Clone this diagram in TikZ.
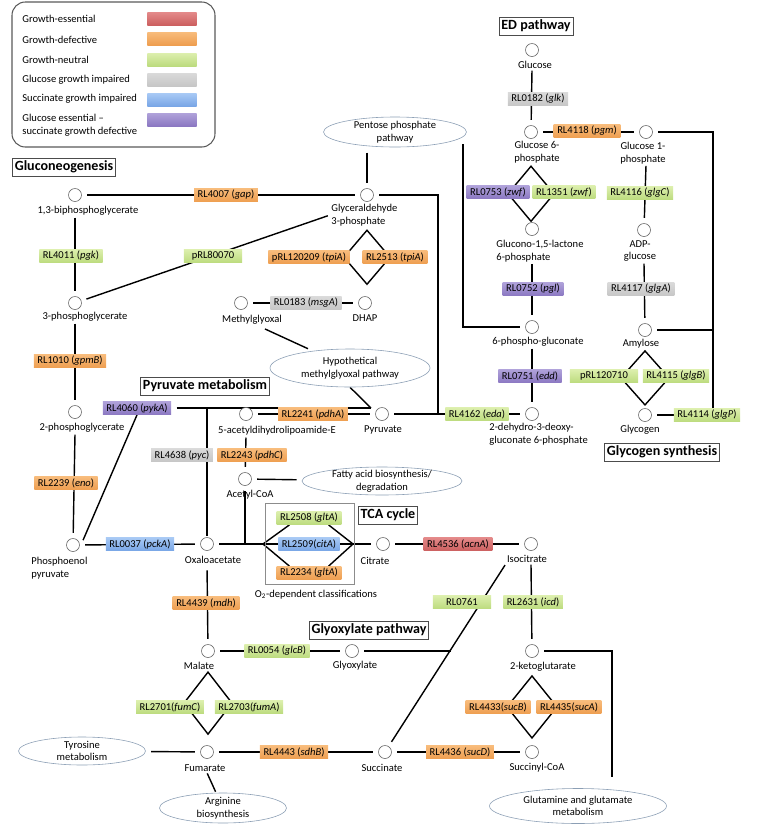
\documentclass[tikz,border=0pt]{standalone}
\usepackage{fontspec}
\setmainfont{Carlito}
\usetikzlibrary{shapes.geometric, positioning, calc, backgrounds}

\definecolor{essTop}{HTML}{E48A8A}
\definecolor{essBot}{HTML}{CC6060}
\definecolor{defTop}{HTML}{F8BC7C}
\definecolor{defBot}{HTML}{EE9E50}
\definecolor{neuTop}{HTML}{DDEFAE}
\definecolor{neuBot}{HTML}{BCDB7E}
\definecolor{glcTop}{HTML}{DADADA}
\definecolor{glcBot}{HTML}{C6C6C6}
\definecolor{sucTop}{HTML}{A9CAF5}
\definecolor{sucBot}{HTML}{79A6E6}
\definecolor{bothTop}{HTML}{B0A2DA}
\definecolor{bothBot}{HTML}{8B78C2}
\definecolor{extline}{HTML}{8C9FB5}

\tikzset{
  met/.style={circle, draw=black!60, line width=0.5pt, fill=white, minimum size=0.39cm, inner sep=0pt},
  lbl/.style={font=\fontsize{9}{10.8}\selectfont, align=center, inner sep=1pt},
  enz/.style={rectangle, font=\fontsize{9}{10.8}\selectfont, inner xsep=3pt, inner ysep=0pt, minimum height=0.4cm, minimum width=1.75cm},
  gess/.style={enz, top color=essTop, bottom color=essBot},
  gdef/.style={enz, top color=defTop, bottom color=defBot},
  gneu/.style={enz, top color=neuTop, bottom color=neuBot},
  gglc/.style={enz, top color=glcTop, bottom color=glcBot},
  gsuc/.style={enz, top color=sucTop, bottom color=sucBot},
  gboth/.style={enz, top color=bothTop, bottom color=bothBot},
  ttl/.style={draw=black!70, line width=0.5pt, font=\fontsize{12}{14}\selectfont\bfseries, inner xsep=2pt, inner ysep=2.5pt},
  ext/.style={ellipse, draw=extline, line width=0.5pt, fill=white, inner sep=0pt},
  wire/.style={line width=1.2pt},
  conn/.style={wire, shorten <=4.5pt, shorten >=4.5pt},
  lconn/.style={wire, shorten <=0.5pt, shorten >=4.5pt}
}

\begin{document}
\begin{tikzpicture}[x=0.03cm, y=-0.03cm]
	\useasboundingbox (0,0) rectangle (760,826);

	% Legend
	\draw [black!65, line width=0.9pt, rounded corners=0.4cm] (12,2) rectangle (215,147);
	\node [lbl, anchor=west, align=left] (lgess) at (21,19) {Growth-essential};
	\node [lbl, anchor=west, align=left] (lgdef) at (21,40) {Growth-defective};
	\node [lbl, anchor=west, align=left] (lgneu) at (21,60) {Growth-neutral};
	\node [lbl, anchor=west, align=left] (lgglc) at (21,80) {Glucose growth impaired};
	\node [lbl, anchor=west, align=left] (lgsuc) at (21,99) {Succinate growth impaired};
	\node [lbl, anchor=west, align=left] (lgboth) at (21,125) {Glucose essential –\\succinate growth defective};
	\node [gess, minimum width=1.47cm, minimum height=0.39cm] (kess) at (172,18.5) {};
	\node [gdef, minimum width=1.47cm, minimum height=0.39cm] (kdef) at (172,38.5) {};
	\node [gneu, minimum width=1.47cm, minimum height=0.39cm] (kneu) at (172,59.5) {};
	\node [gglc, minimum width=1.47cm, minimum height=0.39cm] (kglc) at (172,79.5) {};
	\node [gsuc, minimum width=1.47cm, minimum height=0.39cm] (ksuc) at (172,99.5) {};
	\node [gboth, minimum width=1.47cm, minimum height=0.39cm] (kboth) at (172,119.5) {};

	% Titles
	\node [ttl] (tgluc) at (64,167) {Gluconeogenesis};
	\node [ttl] (ted) at (536,26) {ED pathway};
	\node [ttl] (tpyr) at (205,386) {Pyruvate metabolism};
	\node [ttl] (ttca) at (388,515) {TCA cycle};
	\node [ttl] (tglx) at (369,630) {Glyoxylate pathway};
	\node [ttl] (tgly) at (662,452) {Glycogen synthesis};

	% Metabolites
	\node [met] (bpg) at (75,195) {};
	\node [met] (pga3) at (75,303) {};
	\node [met] (pga2) at (75,412) {};
	\node [met] (pep) at (73,545) {};
	\node [met] (gap3) at (367,195) {};
	\node [met] (dhap) at (365,303) {};
	\node [met] (mgo) at (241,303) {};
	\node [met] (acl) at (246,414) {};
	\node [met] (accoa) at (245,479) {};
	\node [met] (pyr) at (382,414) {};
	\node [met] (oaa) at (207,544) {};
	\node [met] (cit) at (383,544) {};
	\node [met] (icit) at (531,544) {};
	\node [met] (akg) at (532,651) {};
	\node [met] (succoa) at (532,752) {};
	\node [met] (succ) at (385,752) {};
	\node [met] (fum) at (207,752) {};
	\node [met] (mal) at (208,651) {};
	\node [met] (glx) at (352,651) {};
	\node [met] (glcs) at (532,50) {};
	\node [met] (g6p) at (531,132) {};
	\node [met] (g1p) at (646,132) {};
	\node [met] (gcl) at (532,229) {};
	\node [met] (adpg) at (644,230) {};
	\node [met] (pgn6) at (532,327) {};
	\node [met] (amy) at (645,330) {};
	\node [met] (kdpg) at (532,414) {};
	\node [met] (glyc) at (645,415) {};

	% Labels
	\node [lbl] (bpgl) at (88,211) {1,3-biphosphoglycerate};
	\node [lbl] (pga3l) at (85,317) {3-phosphoglycerate};
	\node [lbl] (pga2l) at (82,428) {2-phosphoglycerate};
	\node [lbl, anchor=west, align=left] (pepl) at (30,568) {Phosphoenol\\pyruvate};
	\node [lbl, anchor=west, align=left] (gap3l) at (330,215) {Glyceraldehyde\\3-phosphate};
	\node [lbl] (dhapl) at (365,318) {DHAP};
	\node [lbl] (mgol) at (252,320) {Methylglyoxal};
	\node [lbl] (acll) at (277,431) {5-acetyldihydrolipoamide-E};
	\node [lbl] (accoal) at (250,495) {Acetyl-CoA};
	\node [lbl] (pyrl) at (383,430) {Pyruvate};
	\node [lbl] (oaal) at (213,560) {Oxaloacetate};
	\node [lbl] (citl) at (375,561) {Citrate};
	\node [lbl] (icitl) at (527,559) {Isocitrate};
	\node [lbl] (akgl) at (543,667) {2-ketoglutarate};
	\node [lbl] (succoal) at (537,768) {Succinyl-CoA};
	\node [lbl] (succl) at (382,768) {Succinate};
	\node [lbl] (fuml) at (205,768) {Fumarate};
	\node [lbl] (mall) at (199,666) {Malate};
	\node [lbl] (glxl) at (355,666) {Glyoxylate};
	\node [lbl] (glcsl) at (535,65) {Glucose};
	\node [lbl] (g6pl) at (537,152) {Glucose 6-\\phosphate};
	\node [lbl] (g1pl) at (643,153) {Glucose 1-\\phosphate};
	\node [lbl, anchor=west, align=left] (gcll) at (495,251) {Glucono-1,5-lactone\\6-phosphate};
	\node [lbl] (adpgl) at (640,251) {ADP-\\glucose};
	\node [lbl] (pgn6l) at (538,342) {6-phospho-gluconate};
	\node [lbl] (amyl) at (641,344) {Amylose};
	\node [lbl, anchor=west, align=left] (kdpgl) at (488,434) {2-dehydro-3-deoxy-\\gluconate 6-phosphate};
	\node [lbl] (glycl) at (640,430) {Glycogen};
	\node [lbl] (o2l) at (316,595) {O\textsubscript{2}-dependent classifications};

	% Linked pathways
	\node [ext, minimum width=4.29cm, minimum height=0.9cm, label={[lbl]center:Pentose phosphate\\pathway}] (pentose) at (395,132) {};
	\node [ext, minimum width=4.8cm, minimum height=1.14cm, label={[lbl]center:Hypothetical\\methylglyoxal pathway}] (hypo) at (350,368) {};
	\node [ext, minimum width=4.8cm, minimum height=0.84cm, label={[lbl]center:Fatty acid biosynthesis/\\degradation}] (fatty) at (382,481) {};
	\node [ext, minimum width=3.81cm, minimum height=0.84cm, label={[lbl]center:Tyrosine\\metabolism}] (tyro) at (82,751) {};
	\node [ext, minimum width=3.81cm, minimum height=0.9cm, label={[lbl]center:Arginine\\biosynthesis}] (argi) at (223,808) {};
	\node [ext, minimum width=5.31cm, minimum height=1.05cm, label={[lbl]center:Glutamine and glutamate\\metabolism}] (glut) at (578,806) {};

	% Enzymes
	\node [gdef] (e4007) at (226,195) {RL4007 (\textit{gap})};
	\node [gneu] (e4011) at (71,256) {RL4011 (\textit{pgk})};
	\node [gneu] (e80070) at (213,256) {pRL80070};
	\node [gdef] (e1010) at (70,361) {RL1010 (\textit{gpmB})};
	\node [gdef] (e2239) at (66,483) {RL2239 (\textit{eno})};
	\node [gboth] (e4060) at (137,408) {RL4060 (\textit{pykA})};
	\node [gglc] (e4638) at (182,455) {RL4638 (\textit{pyc})};
	\node [gsuc] (e0037) at (140,544) {RL0037 (\textit{pckA})};
	\node [gdef] (e2241) at (313,414) {RL2241 (\textit{pdhA})};
	\node [gdef] (e2243) at (252,455) {RL2243 (\textit{pdhC})};
	\node [gneu] (e2508) at (309,518) {RL2508 (\textit{gltA})};
	\node [gsuc] (e2509) at (309,544) {RL2509(\textit{citA})};
	\node [gdef] (e2234) at (309,573) {RL2234 (\textit{gltA})};
	\node [gess] (e4536) at (458,544) {RL4536 (\textit{acnA})};
	\node [gneu] (e0761) at (462,602) {RL0761};
	\node [gneu] (e2631) at (533,602) {RL2631 (\textit{icd})};
	\node [gdef] (e4433) at (498,707) {RL4433(\textit{sucB})};
	\node [gdef] (e4435) at (569,707) {RL4435(\textit{sucA})};
	\node [gdef] (e4436) at (460,752) {RL4436 (\textit{sucD})};
	\node [gdef] (e4443) at (294,752) {RL4443 (\textit{sdhB})};
	\node [gneu] (e2701) at (170,707) {RL2701(\textit{fumC})};
	\node [gneu] (e2703) at (249,707) {RL2703(\textit{fumA})};
	\node [gneu] (e0054) at (277,651) {RL0054 (\textit{glcB})};
	\node [gdef] (e4439) at (206,603) {RL4439 (\textit{mdh})};
	\node [gglc] (e0182) at (538,99) {RL0182 (\textit{glk})};
	\node [gdef] (e4118) at (587,131) {RL4118 (\textit{pgm})};
	\node [gboth] (e0753) at (498,192) {RL0753 (\textit{zwf})};
	\node [gneu] (e1351) at (564,192) {RL1351 (\textit{zwf})};
	\node [gneu] (e4116) at (640,193) {RL4116 (\textit{glgC})};
	\node [gboth] (e0752) at (533,289) {RL0752 (\textit{pgl})};
	\node [gglc] (e4117) at (641,289) {RL4117 (\textit{glgA})};
	\node [gboth] (e0751) at (530,376) {RL0751 (\textit{edd})};
	\node [gneu] (e4162) at (477,414) {RL4162 (\textit{eda})};
	\node [gneu, minimum width=2.05cm] (e120710) at (604,376) {pRL120710};
	\node [gneu] (e4115) at (676,376) {RL4115 (\textit{glgB})};
	\node [gneu] (e4114) at (707,415) {RL4114 (\textit{glgP})};
	\node [gdef] (e120209) at (309,257) {pRL120209 (\textit{tpiA})};
	\node [gdef] (e2513) at (395,257) {RL2513 (\textit{tpiA})};
	\node [gglc] (e0183) at (306,303) {RL0183 (\textit{msgA})};

	% TCA frame
	\draw [black!45, line width=0.6pt] (265,503) rectangle (354,584);

	% Lines
	\begin{scope}[on background layer]
		% gluconeogenesis
		\draw [conn] (bpg) -- (gap3);
		\draw [lconn] (bpgl.south -| bpg) -- (pga3);
		\draw [conn, shorten >=2pt] (pga3) -- (gap3l.west);
		\draw [lconn] (pga3l.south -| pga3) -- (pga2);
		\draw [lconn] (pga2l.south -| pga2) -- (pep);
		\draw [conn] (pep) -- (oaa);
		\draw [conn, shorten >=0pt] ([xshift=1pt]pep.east) -- (e4060.south);
		% pyruvate
		\coordinate (pj) at (371,408);
		\draw [conn, shorten >=0pt] (e4060) -- (pj);
		\draw [conn, shorten <=0pt, shorten >=0pt] (hypo.south) -- (pj);
		\draw [conn, shorten <=0pt] ($(mgol.south)+(13,3)$) -- (hypo);
		\draw [conn, shorten <=0pt, shorten >=1pt] (e4060 -| oaa) -- (oaa);
		\draw [conn] (acl) -- (pyr);
		\draw [lconn] (acll.south -| acl) -- (accoa);
		\draw [conn] (accoa) -- (fatty);
		% TCA
		\coordinate (tl) at (263,544);
		\coordinate (tr) at (353,544);
		\draw [conn, shorten >=0pt] (oaa) -- (tl);
		\draw [conn, shorten >=0pt] (accoa) -- (accoa |- tl);
		\draw [wire] (tl) -- ($(e2508.south west)!0.2!(e2508.south east)$);
		\draw [wire] (tr) -- ($(e2508.south west)!0.8!(e2508.south east)$);
		\draw [wire] (tl) -- ($(e2234.north west)!0.2!(e2234.north east)$);
		\draw [wire] (tr) -- ($(e2234.north west)!0.8!(e2234.north east)$);
		\draw [wire] (tl) -- (tr);
		\draw [conn, shorten <=0pt] (tr) -- (cit);
		\draw [conn] (cit) -- (icit);
		\draw [conn] (oaal.south -| oaa) -- (mal);
		% glyoxylate
		\draw [conn, shorten <=1pt] (icitl.south west) -- (succ);
		\coordinate (gj) at (451,651);
		\draw [conn, shorten >=0pt] (glx) -- (gj);
		\draw [conn] (mal) -- (glx);
		\draw [lconn] (icitl.south -| icit) -- (akg);
		\coordinate (kr) at (612,651);
		\draw [conn, shorten >=10pt] (akg) -- (kr) -- (kr |- glut.north);
		\draw [wire] ($(akg |- akgl.south)+(0,3)$) -- ++(-25,31) -- ++(25,31) -- ++(25,-31) -- cycle;
		\draw [conn] (succ) -- (succoa);
		\draw [conn] (fum) -- (succ);
		\draw [conn] (tyro) -- (fum);
		\draw [lconn, shorten >=1pt] (fuml.south -| fum) -- (argi);
		\draw [wire] ($(mal |- mall.south)+(0,1)$) -- ++(-24,31) -- ++(24,31) -- ++(24,-31) -- cycle;
		% ED and glycogen
		\draw [conn] (pentose.south -| gap3) -- (gap3);
		\coordinate (gx) at (438,195);
		\draw [conn, shorten >=0pt] (gap3) -- (gx) -- (gx |- pyr);
		\draw [conn] (pyr) -- (kdpg);
		\draw [lconn] (glcsl.south -| glcs) -- (g6p);
		\draw [conn] (g6p) -- (g1p);
		\coordinate (gr) at (713,132);
		\draw [conn, shorten >=0pt] (g1p) -- (gr) -- (gr |- e4114.north);
		\draw [conn, shorten >=0pt] (amy) -- (amy -| gr);
		\draw [conn, shorten >=0pt] (glyc) -- (e4114);
		\draw [wire] ($(g6p |- g6pl.south)+(0,2)$) -- ++(-23,27.5) -- ++(23,27.5) -- ++(23,-27.5) -- cycle;
		\draw [lconn] (g1pl.south -| g1p) -- (adpg);
		\draw [lconn] (gcll.south -| gcl) -- (pgn6);
		\coordinate (pp) at (463,144);
		\draw [conn, shorten <=0pt] (pp) -- (pp |- pgn6) -- (pgn6);
		\draw [lconn] (pgn6l.south -| pgn6) -- (kdpg);
		\draw [lconn] (adpgl.south -| adpg) -- (amy);
		\draw [wire] ($(amy |- amyl.south)+(0,1)$) -- ++(-24,27) -- ++(24,27) -- ++(24,-27) -- cycle;
		% triose
		\draw [wire] ($(gap3 |- gap3l.south)+(0,3)$) -- ++(-23,27) -- ++(23,27) -- ++(23,-27) -- cycle;
		\draw [conn] (mgo) -- (dhap);
	\end{scope}

\end{tikzpicture}
\end{document}
